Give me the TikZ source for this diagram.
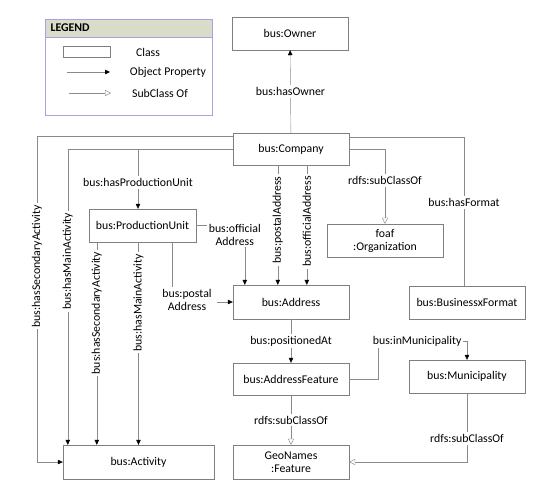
\documentclass[tikz,border=0pt]{standalone}
\usepackage{fontspec}
\setmainfont{Carlito}
\usepackage{tikz}
\usetikzlibrary{positioning,calc,arrows.meta}
\definecolor{lgrey}{HTML}{8A8A8A}
\definecolor{bgrey}{HTML}{7F7F7F}
\definecolor{legline}{HTML}{A3A3E6}
\definecolor{leghead}{HTML}{D9DCC8}

\begin{document}
\begin{tikzpicture}[x=1pt, y=-1pt, font=\fontsize{11.8}{13}\selectfont,
  cls/.style={draw=bgrey, fill=white, align=center, minimum width=116pt,
              minimum height=33pt, inner sep=2pt},
  lbl/.style={fill=white, inner sep=2pt, align=center},
  arr/.style={draw=lgrey, -{Triangle[length=5pt, width=4.5pt, fill=black, color=black]}},
  sub/.style={draw=lgrey, -{Triangle[open, length=6pt, width=6pt, fill=white, color=lgrey]}},
  plain/.style={draw=lgrey}]
  \useasboundingbox (0,0) rectangle (543,496);
  % legend
  \draw[legline, fill=white] (45,19) rectangle (212,115);
  \draw[legline, fill=leghead] (45,19) rectangle (212,37);
  \node[anchor=west, font=\fontsize{11.8}{13}\selectfont\bfseries] (legHead) at (47,28) {LEGEND};
  \node[draw=bgrey, minimum width=47pt, minimum height=11pt, inner sep=0pt] (legClass) at (86.5,51.5) {};
  \node (legClassTxt) at (148,52) {Class};
  \coordinate (legObjA) at (67,72);
  \coordinate (legObjB) at (110,72);
  \draw[arr] (legObjA) -- (legObjB);
  \node (legObjTxt) at (168,72) {Object Property};
  \coordinate (legSubA) at (69,93);
  \coordinate (legSubB) at (111,93);
  \draw[sub] (legSubA) -- (legSubB);
  \node (legSubTxt) at (160,93) {SubClass Of};
  % classes
  \node[cls] (owner) at (290,33.5) {bus:Owner};
  \node[cls, minimum height=32pt] (company) at (291,149) {bus:Company};
  \node[cls, minimum width=107pt] (pu) at (142.5,225.5) {bus:ProductionUnit};
  \node[cls] (foaf) at (385,240.5) {foaf\\:Organization};
  \node[cls, minimum height=34pt] (address) at (291,302) {bus:Address};
  \node[cls] (bizfmt) at (467,302.5) {bus:BusinessxFormat};
  \node[cls, minimum height=32pt] (addrfeat) at (291,379) {bus:AddressFeature};
  \node[cls] (munic) at (467,376.5) {bus:Municipality};
  \node[cls, minimum height=34pt] (geo) at (291,462) {GeoNames\\:Feature};
  \node[cls, minimum width=151pt, minimum height=34pt] (activity) at (138.5,462) {bus:Activity};
  % corners
  \coordinate (cSec) at (37,462);
  \coordinate (cMun) at (378,341);
  % object properties
  \draw[arr] (company) -- node[lbl] (lOwner) {bus:hasOwner} (owner);
  \draw[arr] ([yshift=-3pt]company.north west) -| node[lbl, rotate=90, pos=0.7] (lSecC) {bus:hasSecondaryActivity}
    (cSec) -- (activity.west);
  \draw[arr] (company.west) -| node[lbl, rotate=90, pos=0.69] (lMainC) {bus:hasMainActivity}
    ([xshift=5pt]activity.north west);
  \draw[arr] (company.west) -| node[lbl, pos=0.78] (lPU) {bus:hasProductionUnit}
    ([xshift=-4.5pt]pu.north);
  \draw[arr] ([xshift=8pt]pu.south west) -- node[lbl, rotate=90, pos=0.35] (lSecP) {bus:hasSecondaryActivity}
    ([xshift=34pt]activity.north west);
  \draw[arr] (activity.north |- pu.south) -- node[lbl, rotate=90, pos=0.3] (lMainP) {bus:hasMainActivity}
    (activity.north);
  \draw[arr] (pu.east) -| node[lbl, pos=0.5, xshift=-10pt, yshift=-9pt] (lOffP) {bus:official\\Address}
    ([xshift=12pt]address.north west);
  \draw[arr] ([xshift=29.5pt]pu.south) |- node[lbl, pos=0.5, xshift=15pt, yshift=2pt, inner xsep=5pt] (lPostP) {bus:postal\\Address}
    (address.west);
  \draw[arr] ([xshift=45pt]company.south west) -- node[lbl, rotate=90, pos=0.46] (lPostC) {bus:postalAddress}
    ([xshift=45pt]address.north west);
  \draw[arr] ([xshift=74pt]company.south west) -- node[lbl, rotate=90, pos=0.47] (lOffC) {bus:officialAddress}
    ([xshift=74pt]address.north west);
  \draw[plain] ([yshift=-4pt]company.north east) -| node[lbl, pos=0.72] (lFmt) {bus:hasFormat}
    ([xshift=-3pt]bizfmt.north);
  \draw[arr] (address) -- node[lbl] (lPos) {bus:positionedAt} (addrfeat);
  \draw[arr] (addrfeat.east) -| (cMun) -| node[lbl, pos=0.22] (lMun) {bus:inMunicipality} (munic.north);
  % subclasses
  \draw[sub] (company.east) -| node[lbl, pos=0.71] (lSubOrg) {rdfs:subClassOf} (foaf.north);
  \draw[sub] (addrfeat) -- node[lbl] (lSubAF) {rdfs:subClassOf} (geo);
  \draw[sub] (munic.south) |- node[lbl, pos=0.33] (lSubMun) {rdfs:subClassOf} (geo.east);
\end{tikzpicture}
\end{document}
